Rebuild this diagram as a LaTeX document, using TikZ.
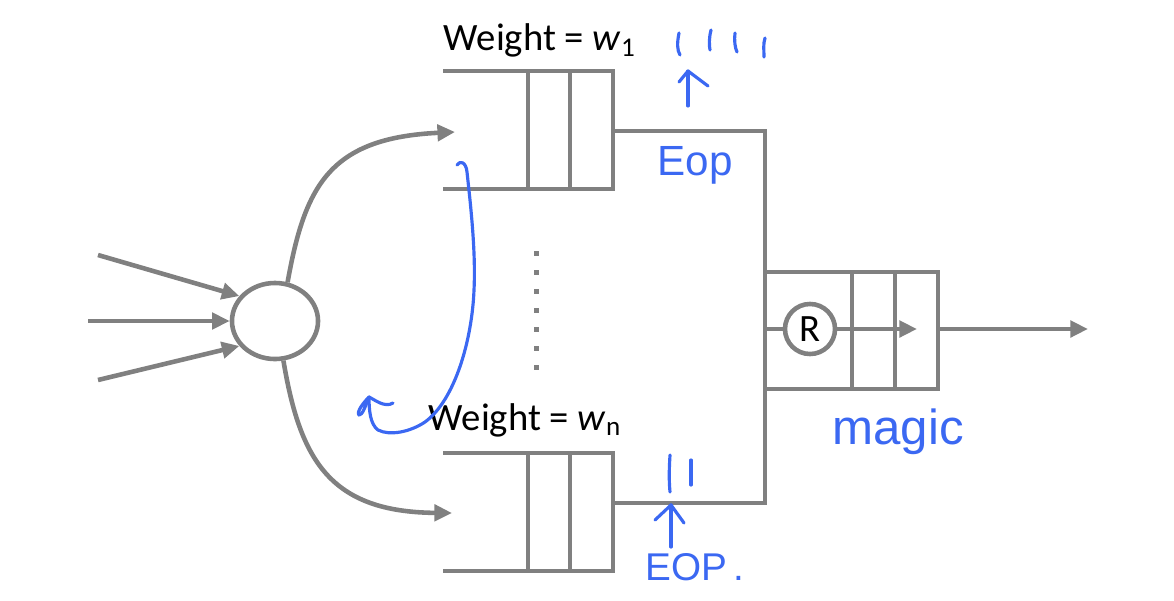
\documentclass[tikz,border=0pt]{standalone}
\usepackage{fontspec}
\setmainfont{Carlito}
\newfontfamily\handfont{Liberation Sans}
\usetikzlibrary{arrows.meta,shapes.geometric}
\definecolor{qgray}{HTML}{808080}
\definecolor{inkblue}{HTML}{3B68F2}
\begin{document}
\begin{tikzpicture}[x=0.01cm,y=-0.01cm,
  qline/.style={draw=qgray,line width=1.3pt},
  qarrow/.style={qline,-{Triangle[length=5pt,width=4.6pt]}},
  ink/.style={draw=inkblue,line width=0.9pt,line cap=round,line join=round},
  inktext/.style={text=inkblue,font=\handfont\fontsize{12}{12}\selectfont,inner sep=0pt},
  wlabel/.style={font=\fontsize{11}{13}\selectfont,inner sep=0pt,anchor=base west}]
\useasboundingbox (0,0) rectangle (1174,600);
% scheduler and its inputs
\node[ellipse,qline,minimum width=0.86cm,minimum height=0.76cm,inner sep=0pt] (sched) at (275,321) {};
\coordinate (src1) at (98,255);
\coordinate (src2) at (88,321);
\coordinate (src3) at (98,380);
\draw[qarrow] (src1) -- (sched.145);
\draw[qarrow] (src2) -- (sched.west);
\draw[qarrow] (src3) -- (sched.215);
% branches to the queues
\coordinate (in1) at (455,132);
\coordinate (inn) at (452,513);
\draw[qarrow] (sched.72) .. controls (305,185) and (330,138) .. (in1);
\draw[qarrow] (sched.-78) .. controls (300,460) and (330,512) .. (inn);
% queue 1
\draw[qline] (443,71) -- (613,71) -- (613,189) -- (443,189);
\draw[qline] (528,71) -- (528,189) (570,71) -- (570,189);
\node[wlabel] (w1) at (443,51) {Weight = \textit{w}\textsubscript{1}};
% queue n
\draw[qline] (443,453) -- (613,453) -- (613,571) -- (443,571);
\draw[qline] (528,453) -- (528,571) (570,453) -- (570,571);
\node[wlabel] (wn) at (428,430) {Weight = \textit{w}\textsubscript{n}};
% dots between the queues
\foreach \k in {0,...,6}
  \fill[qgray] (534,251+19*\k) rectangle (539,256+19*\k);
% merge into the output queue
\coordinate (q1) at (613,131);
\coordinate (qn) at (613,503);
\coordinate (j1) at (765,131);
\coordinate (jn) at (765,503);
\draw[qline] (q1) -- (j1) -- (jn) -- (qn);
\draw[qline] (765,272) rectangle (938,389);
\draw[qline] (852,272) -- (852,389) (895,272) -- (895,389);
\node[circle,qline,fill=white,minimum size=0.5cm,inner sep=0pt,font=\fontsize{11}{12}\selectfont] (rr) at (810,329) {R};
\coordinate (jm) at (765,329);
\coordinate (rtip) at (917,329);
\coordinate (oout) at (938,329);
\coordinate (oend) at (1088,329);
\draw[qline] (jm) -- (rr);
\draw[qarrow] (rr) -- (rtip);
\draw[qarrow] (oout) -- (oend);
% hand notes
\draw[ink] (679,33) .. controls (677,43) and (677,50) .. (680,55);
\draw[ink] (711,30) .. controls (709,38) and (709,45) .. (710,50);
\draw[ink] (735,33) .. controls (734,40) and (735,48) .. (737,52);
\draw[ink] (765,38) .. controls (763,44) and (764,50) .. (764,57);
\draw[ink] (688,106) -- (688,71);
\draw[ink] (679,82) -- (688,71) -- (708,86);
\node[inktext] (eop1) at (695,165) {Eop};
\draw[ink] (457,165) .. controls (460,160) and (466,162) .. (467,172)
  .. controls (470,200) and (476,250) .. (474,290)
  .. controls (472,340) and (455,400) .. (425,422)
  .. controls (410,432) and (390,436) .. (378,430)
  .. controls (370,424) and (369,410) .. (369,397);
\draw[ink] (369,397) .. controls (364,402) and (356,412) .. (359,415)
  .. controls (362,416) and (366,405) .. (369,397);
\draw[ink] (369,397) .. controls (375,400) and (385,408) .. (393,403);
\draw[ink] (670,455) .. controls (669,470) and (669,482) .. (670,492);
\draw[ink] (691,460) -- (691,485);
\draw[ink] (671,547) -- (671,505);
\draw[ink] (655,520) -- (671,505) -- (684,523);
\node[inktext,font=\handfont\fontsize{11}{11}\selectfont] (eop2) at (695,567) {EOP\,.};
\node[inktext,font=\handfont\fontsize{14}{14}\selectfont] (magic) at (898,432) {magic};
\end{tikzpicture}
\end{document}
